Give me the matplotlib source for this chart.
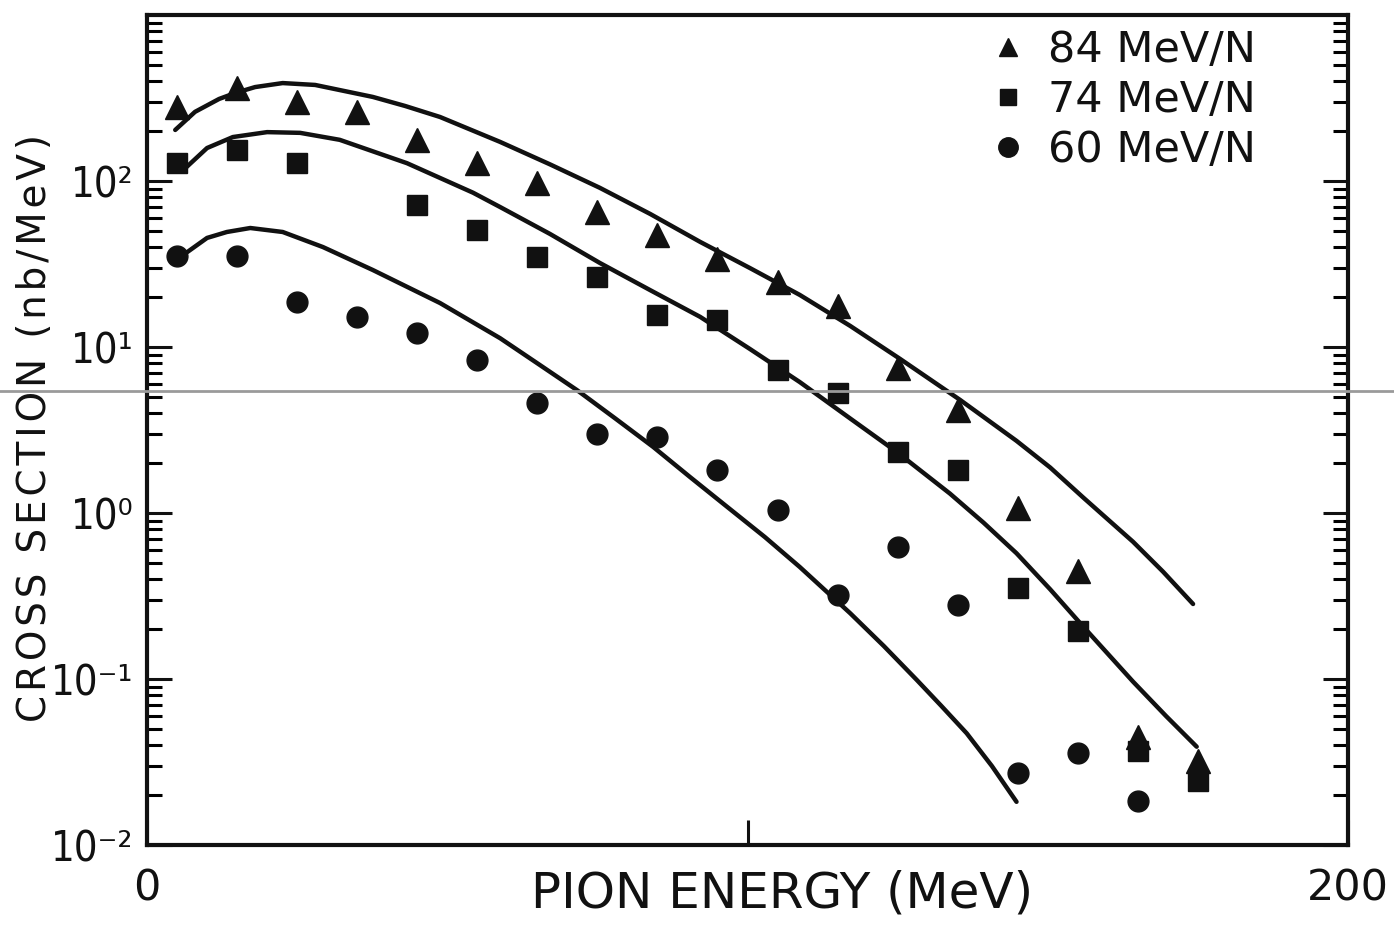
import matplotlib
matplotlib.use("Agg")
import matplotlib.pyplot as plt
from matplotlib.lines import Line2D
import numpy as np

# ---- data ----
energy = [5, 15, 25, 35, 45, 55, 65, 75, 85, 95, 105, 115, 125, 135, 145, 155, 165, 175]

xs84 = [279, 363, 299, 261, 177, 128, 97, 65, 47, 34, 24.6, 17.7, 7.5, 4.2, 1.07, 0.45, 0.045, 0.032]
xs74 = [128, 154, 128, np.nan, 72, 51, 35, 26.4, 15.6, 14.5, 7.3, 5.3, 2.33, 1.82, 0.353, 0.195, 0.037, 0.0243]
xs60 = [35.3, 35.3, 18.7, 15.2, 12.1, 8.4, 4.6, 3.0, 2.87, 1.82, 1.04, 0.32, 0.62, 0.28, 0.027, 0.036, 0.0184, np.nan]

# calculated curves
c84_e = [4.7, 8, 12, 14.7, 18, 22.6, 28, 37.6, 43, 48.8, 58.8, 67.1, 75.4, 83.8, 92.1, 100.4, 108.7,
         117.1, 125.4, 135.4, 144.8, 150.4, 155.9, 164.2, 169.2, 174.2]
c84_v = [203, 261, 312, 339, 368, 389, 379, 321, 283, 243, 172, 126, 91, 63.3, 43, 29.9, 20.6,
         13.4, 8.48, 4.80, 2.72, 1.88, 1.24, 0.671, 0.443, 0.283]

c74_e = [6, 10, 14.3, 20, 25.5, 32.1, 43.3, 54.3, 58.8, 67.1, 75.4, 83.8, 92.1, 100.4, 108.7,
         117.1, 124.8, 133.7, 139.3, 144.8, 150.4, 155.9, 164.2, 169.7, 174.8]
c74_v = [116, 158, 184, 197, 195, 177, 128, 85, 69.7, 48, 32.1, 22.0, 15.2, 9.73, 6.15,
         3.71, 2.34, 1.31, 0.875, 0.572, 0.347, 0.207, 0.0964, 0.0598, 0.0391]

c60_e = [6.7, 10, 13.3, 17.2, 22.6, 29.3, 37.6, 48.8, 58.8, 65.4, 71.6, 77.9, 84.3, 90.4, 96.6,
         102.9, 108.7, 117.1, 122.7, 128.2, 132.3, 136.5, 140.7, 144.8]
c60_v = [37.3, 45.4, 49.3, 52.1, 49.3, 40, 29.1, 18.4, 11.3, 7.8, 5.5, 3.73, 2.5, 1.65, 1.09,
         0.716, 0.473, 0.249, 0.158, 0.0986, 0.0687, 0.0471, 0.0299, 0.0182]

labels = ["84 MeV/N", "74 MeV/N", "60 MeV/N"]
xticks = [0, 100, 200]
xticklabels = ["0", "", "200"]
yticks = [1e-2, 1e-1, 1e0, 1e1, 1e2]
yticklabels = ["10\u207b\u00b2", "10\u207b\u00b9", "10\u2070", "10\u00b9", "10\u00b2"]
xlabel = "PION ENERGY (MeV)"
ylabel = "CROSS SECTION (nb/MeV)"

# ---- figure ----
plt.rcParams["font.family"] = ["DejaVu Sans"]
W, H = 1394, 926
fig = plt.figure(figsize=(W / 100, H / 100), dpi=100)
fig.patch.set_facecolor("white")
ax = fig.add_axes([147 / W, 1 - 845 / H, (1348 - 147) / W, (845 - 15) / H])

k = "#111111"
HAIR = "\u200a"

for ce, cv in ((c84_e, c84_v), (c74_e, c74_v), (c60_e, c60_v)):
    ax.plot(ce, cv, color=k, lw=3.2, solid_capstyle="round", solid_joinstyle="round")

ax.plot(energy, xs84, ls="none", marker="^", ms=17, color=k)
ax.plot(energy, xs74, ls="none", marker="s", ms=14, color=k)
ax.plot(energy, xs60, ls="none", marker="o", ms=15, color=k)

ax.set_yscale("log")
ax.set_xlim(0, 200)
ax.set_ylim(1e-2, 1e3)

ax.set_xticks(xticks)
ax.set_xticklabels(xticklabels, fontsize=31)
ax.xaxis.set_minor_locator(matplotlib.ticker.NullLocator())
ax.set_yticks(yticks)
ax.set_yticklabels(yticklabels, fontsize=30, fontstretch="condensed")
ax.yaxis.set_minor_locator(matplotlib.ticker.LogLocator(base=10, subs=np.arange(2, 10), numticks=20))
ax.yaxis.set_minor_formatter(matplotlib.ticker.NullFormatter())

ax.tick_params(axis="y", which="major", direction="in", length=18, width=2.2, right=True, left=True, pad=10, colors=k)
ax.tick_params(axis="y", which="minor", direction="in", length=11, width=2.2, right=True, left=True)
ax.tick_params(axis="x", which="major", direction="in", length=18, width=2.2, top=False, pad=16, colors=k)

for s in ax.spines.values():
    s.set_linewidth(3)
    s.set_color(k)

ax.set_xlabel(xlabel, fontsize=36, color=k, va="top")
ax.xaxis.set_label_coords((782 - 147) / 1201, (845 - 870) / 830)
ax.set_ylabel(HAIR.join(ylabel), fontsize=28, color=k)
ax.yaxis.set_label_coords((54 - 147) / 1201, 0.503)

handles = [
    Line2D([], [], ls="none", marker="^", ms=13, color=k),
    Line2D([], [], ls="none", marker="s", ms=12, color=k),
    Line2D([], [], ls="none", marker="o", ms=14, color=k),
]
leg = ax.legend(handles, labels, loc="upper right",
                bbox_to_anchor=(0.948, 1.0196), frameon=False,
                fontsize=31, handlelength=0.8, handletextpad=0.51, labelspacing=0.19, borderpad=0.2)
for t in leg.get_texts():
    t.set_color(k)

# scanner artefact line across the page
fig.add_artist(Line2D([0, 1], [1 - 391 / H, 1 - 391 / H], transform=fig.transFigure,
                      color="#9a9a9a", lw=2.0))

fig.savefig("out.png", dpi=100, facecolor="white")
